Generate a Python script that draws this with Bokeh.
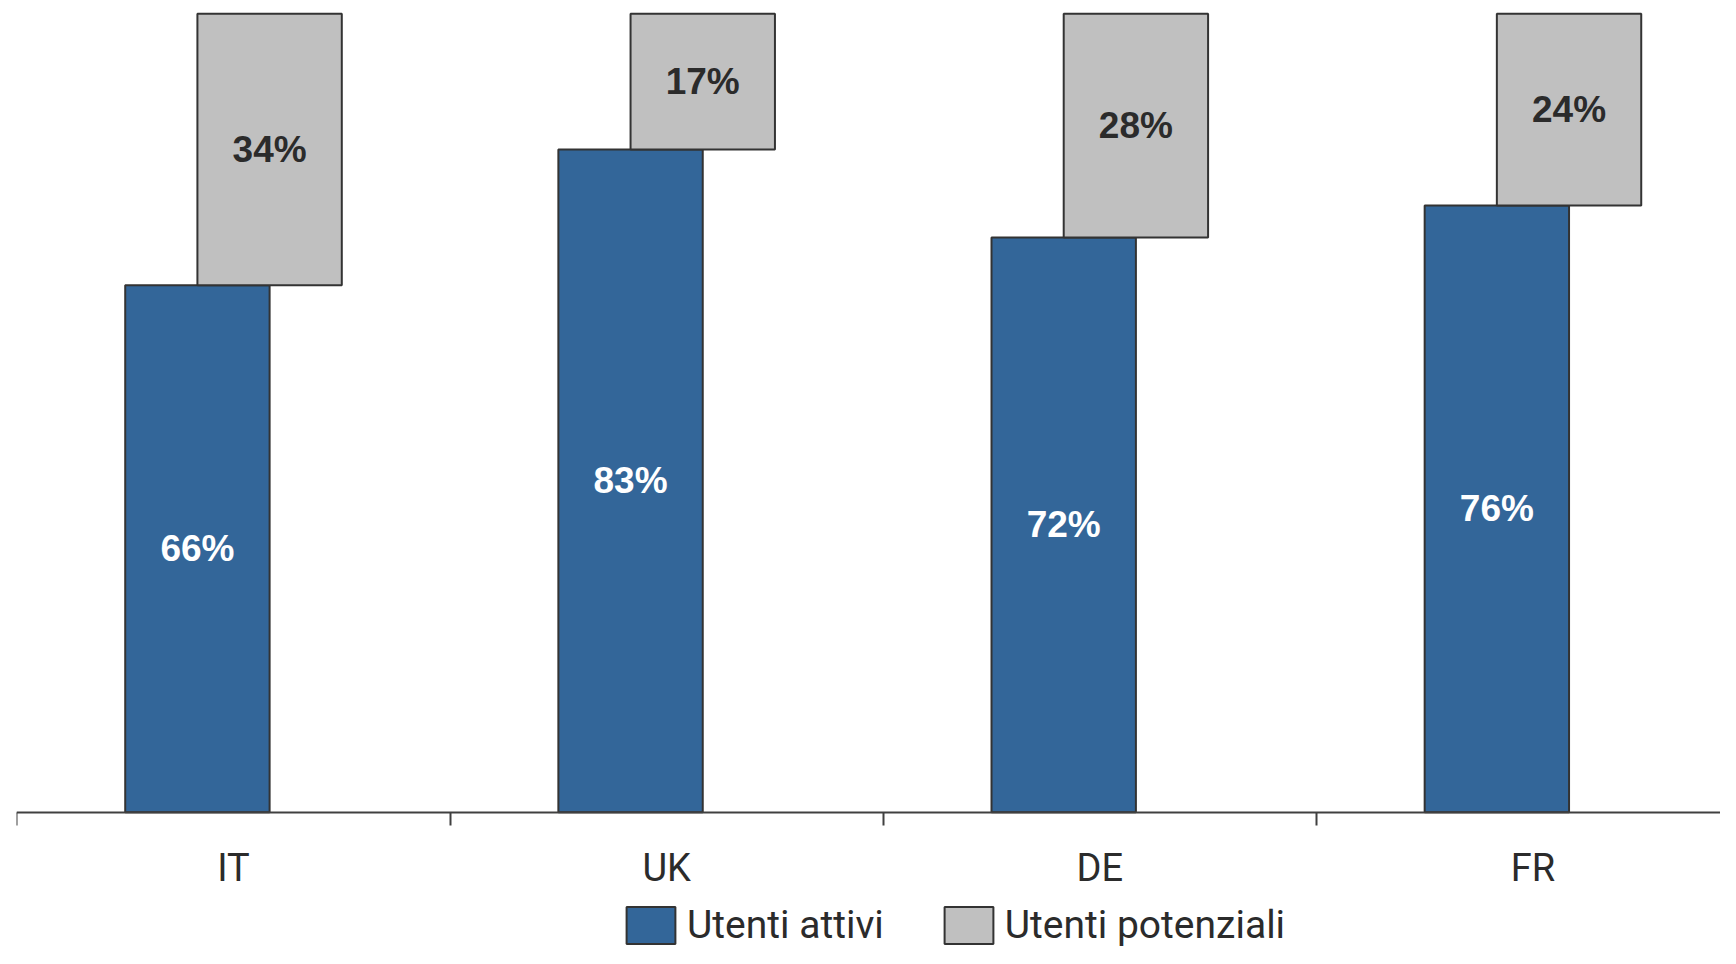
from bokeh.plotting import figure
from bokeh.models import ColumnDataSource, Range1d, FixedTicker, Legend, LegendItem, LabelSet
from bokeh.core.properties import value
from bokeh.embed import file_html
from bokeh.resources import INLINE

countries = ["IT", "UK", "DE", "FR"]
active = [66, 83, 72, 76]
potential = [34, 17, 28, 24]
active_labels = ["66%", "83%", "72%", "76%"]
potential_labels = ["34%", "17%", "28%", "24%"]

BLUE = "#336699"
GRAY = "#C0C0C0"
EDGE = "#333333"
TEXT = "#2B2B2B"
NARROW = "Roboto"

pos = [i + 0.5 for i in range(len(countries))]
total = [a + b for a, b in zip(active, potential)]
src = ColumnDataSource(dict(
    xa=[x - 1 / 12 for x in pos],
    xp=[x + 1 / 12 for x in pos],
    active=active,
    total=total,
    ya=[a / 2 for a in active],
    yp=[a + b / 2 for a, b in zip(active, potential)],
    la=active_labels,
    lp=potential_labels,
))

p = figure(width=1720, height=948,
           x_range=Range1d(-0.001, 3.933), y_range=Range1d(-17.07, 101.67),
           output_backend="svg", toolbar_location=None, y_axis_location=None,
           min_border_left=16, min_border_right=0, min_border_top=0, min_border_bottom=0)
p.outline_line_color = None
p.xgrid.visible = False
p.ygrid.visible = False

r1 = p.vbar(x="xa", width=1 / 3, bottom=0, top="active", source=src,
            fill_color=BLUE, line_color=EDGE, line_width=2)
r2 = p.vbar(x="xp", width=1 / 3, bottom="active", top="total", source=src,
            fill_color=GRAY, line_color=EDGE, line_width=2)

p.add_layout(LabelSet(x="xa", y="ya", text="la", source=src, text_align="center",
                      text_baseline="middle", text_font=value("Liberation Sans"),
                      text_font_style="bold", text_font_size="37px", text_color="white"))
p.add_layout(LabelSet(x="xp", y="yp", text="lp", source=src, text_align="center",
                      text_baseline="middle", text_font=value("Liberation Sans"),
                      text_font_style="bold", text_font_size="37px", text_color=TEXT))

ax = p.xaxis[0]
ax.fixed_location = 0
ax.ticker = FixedTicker(ticks=pos, minor_ticks=[float(i) for i in range(len(countries) + 1)])
ax.major_label_overrides = {x: c for x, c in zip(pos, countries)}
ax.major_tick_line_color = None
ax.major_tick_out = 0
ax.major_tick_in = 0
ax.minor_tick_out = 13
ax.minor_tick_in = 0
ax.minor_tick_line_color = "#404040"
ax.minor_tick_line_width = 2
ax.axis_line_color = "#404040"
ax.axis_line_width = 2
ax.major_label_text_font = NARROW
ax.major_label_text_font_size = "38px"
ax.major_label_text_color = TEXT
ax.major_label_standoff = 21

legend = Legend(items=[LegendItem(label="Utenti attivi", renderers=[r1]),
                       LegendItem(label="Utenti potenziali", renderers=[r2])],
                orientation="horizontal", location=(604, 0),
                glyph_width=61, glyph_height=46, label_standoff=6, spacing=54,
                padding=0, margin=0, border_line_color=None, background_fill_alpha=0,
                label_text_font=NARROW, label_text_font_size="39px",
                label_text_color=TEXT, label_height=46)
p.add_layout(legend)

open("out.html", "w").write(file_html(p, INLINE))
